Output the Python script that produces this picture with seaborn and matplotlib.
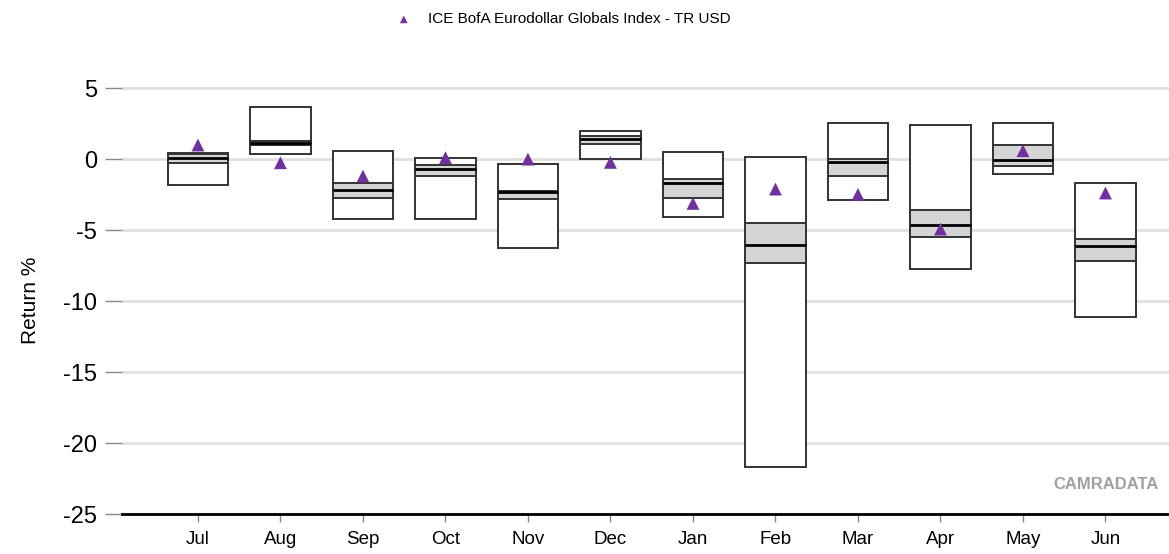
import matplotlib
matplotlib.use("Agg")
import matplotlib.pyplot as plt
import seaborn as sns
import pandas as pd
import numpy as np

months = ["Jul", "Aug", "Sep", "Oct", "Nov", "Dec", "Jan", "Feb", "Mar", "Apr", "May", "Jun"]
p_max = [0.44, 3.68, 0.59, 0.07, -0.31, 1.97, 0.49, 0.12, 2.56, 2.39, 2.56, -1.67]
p_q3 = [0.33, 1.29, -1.67, -0.42, -2.25, 1.64, -1.43, -4.48, 0.02, -3.59, 1.01, -5.61]
p_med = [0.05, 1.15, -2.21, -0.73, -2.30, 1.45, -1.67, -6.03, -0.23, -4.65, -0.07, -6.15]
p_q1 = [-0.26, 0.96, -2.75, -1.17, -2.84, 1.06, -2.72, -7.30, -1.17, -5.52, -0.49, -7.18]
p_min = [-1.81, 0.33, -4.20, -4.20, -6.24, 0.02, -4.06, -21.67, -2.89, -7.77, -1.06, -11.15]
index_ret = [0.99, -0.26, -1.20, 0.10, 0.00, -0.23, -3.12, -2.11, -2.49, -4.93, 0.59, -2.39]
series_name = "ICE BofA Eurodollar Globals Index - TR USD"

sns.set_theme(style="white")
plt.rcParams["font.family"] = ["Liberation Sans", "DejaVu Sans"]
plt.rcParams["text.color"] = "black"
plt.rcParams["axes.labelcolor"] = "black"
plt.rcParams["xtick.color"] = "#888888"
plt.rcParams["ytick.color"] = "#888888"
plt.rcParams["xtick.labelcolor"] = "black"
plt.rcParams["ytick.labelcolor"] = "black"

fig = plt.figure(figsize=(11.69, 5.54), dpi=100)
ax = fig.add_axes([0.1044, 0.0722, 0.8956, 0.8328])

x = np.arange(len(months))
w = 0.73

# outer range boxes
ax.bar(x, np.array(p_max) - np.array(p_min), bottom=p_min, width=w,
       color="white", edgecolor="#333333", linewidth=1.4, zorder=3)
# interquartile grey band
ax.bar(x, np.array(p_q3) - np.array(p_q1), bottom=p_q1, width=w,
       color="#d4d4d4", edgecolor="#333333", linewidth=1.4, zorder=4)
# median lines
ax.hlines(p_med, x - w / 2, x + w / 2, color="black", linewidth=2.0, zorder=5)

df = pd.DataFrame({"month": x, "ret": index_ret})
sns.scatterplot(data=df, x="month", y="ret", marker="^", s=85, color="#7030A0",
                edgecolor="none", zorder=6, ax=ax, label=series_name)

ax.set_xlim(-0.92, 11.77)
ax.set_ylim(-25, 7.5)
ax.set_yticks([5, 0, -5, -10, -15, -20, -25])
ax.set_yticklabels(["5", "0", "-5", "-10", "-15", "-20", "-25"], fontsize=17)
ax.set_xticks(x)
ax.set_xticklabels(months, fontsize=13.5)
ax.set_xlabel("")
ax.set_ylabel("Return %", fontsize=15)
ax.yaxis.set_label_coords(-0.0785, 0.464)
ax.yaxis.grid(True, color="#e0e0e0", linewidth=2)
ax.set_axisbelow(True)
for s in ["top", "right", "left"]:
    ax.spines[s].set_visible(False)
ax.spines["bottom"].set_color("black")
ax.spines["bottom"].set_linewidth(2)
ax.tick_params(axis="y", length=12, width=1, pad=6, left=True)
ax.tick_params(axis="x", length=6, width=1, pad=6, bottom=True, direction="out")

leg = ax.legend(loc="upper center", bbox_to_anchor=(0.418, 1.117), frameon=False,
                fontsize=11, handletextpad=0.6, markerscale=0.6)

ax.text(0.99, 0.065, "CAMRADATA", transform=ax.transAxes, ha="right", va="center",
        fontsize=12, fontweight="bold", color="#a0a0a0")

fig.savefig("out.png", dpi=100)
